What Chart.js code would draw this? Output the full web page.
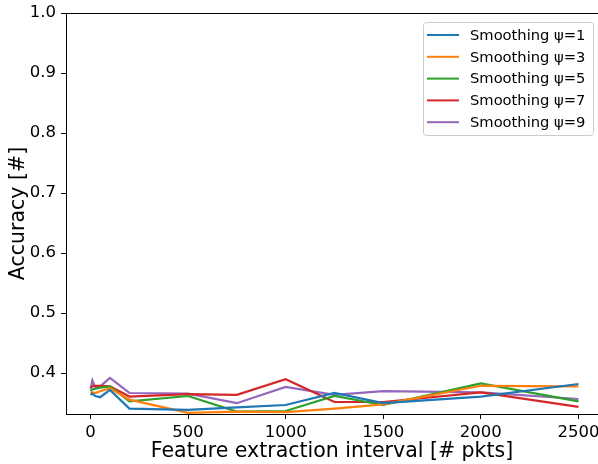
<!DOCTYPE html>
<html>
<head>
<meta charset="utf-8">
<script src="https://cdn.jsdelivr.net/npm/chart.js@4.4.1/dist/chart.umd.min.js"></script>
<style>
  html, body { margin: 0; padding: 0; background: #fff; overflow: hidden; }
  #wrap { width: 598px; height: 464px; position: relative; }
</style>
</head>
<body>
<div id="wrap"><canvas id="chart"></canvas></div>
<script>
// data
const intervals = [1, 10, 25, 50, 100, 200, 500, 750, 1000, 1250, 1500, 2000, 2500];
const smooth1 = [0.364, 0.366, 0.362, 0.360, 0.372, 0.341, 0.339, 0.343, 0.347, 0.367, 0.350, 0.361, 0.382];
const smooth3 = [0.366, 0.368, 0.367, 0.370, 0.375, 0.356, 0.334, 0.336, 0.335, 0.341, 0.348, 0.379, 0.378];
const smooth5 = [0.370, 0.373, 0.374, 0.376, 0.378, 0.353, 0.362, 0.336, 0.337, 0.362, 0.347, 0.383, 0.353];
const smooth7 = [0.376, 0.378, 0.379, 0.379, 0.378, 0.361, 0.365, 0.364, 0.390, 0.352, 0.352, 0.368, 0.344];
const smooth9 = [0.373, 0.388, 0.376, 0.378, 0.392, 0.367, 0.366, 0.350, 0.377, 0.364, 0.370, 0.368, 0.357];
const seriesNames = ['Smoothing ψ=1', 'Smoothing ψ=3', 'Smoothing ψ=5', 'Smoothing ψ=7', 'Smoothing ψ=9'];
const xTicks = [0, 500, 1000, 1500, 2000, 2500];
const yTicks = [0.4, 0.5, 0.6, 0.7, 0.8, 0.9, 1.0];

const colors = ['#1f77b4', '#ff7f0e', '#2ca02c', '#d62728', '#9467bd'];
const FONT = "'DejaVu Sans', 'Liberation Sans', sans-serif";

const allSeries = [smooth1, smooth3, smooth5, smooth7, smooth9];
const datasets = allSeries.map((vals, i) => ({
  label: seriesNames[i],
  data: intervals.map((x, j) => ({ x: x, y: vals[j] })),
  borderColor: colors[i], backgroundColor: colors[i],
  borderWidth: 2.2, pointRadius: 0, tension: 0, fill: false
}));

// top spine + matplotlib-like legend box
const framePlugin = {
  id: 'frame',
  afterDatasetsDraw(chart) {
    const { ctx, chartArea: a } = chart;
    ctx.save();
    ctx.strokeStyle = '#000'; ctx.lineWidth = 1;
    ctx.beginPath(); ctx.moveTo(a.left, a.top + 0.5); ctx.lineTo(a.right, a.top + 0.5); ctx.stroke();

    const bx = 423.5, by = 22.5, bw = 170, bh = 113, r = 3;
    ctx.beginPath();
    ctx.moveTo(bx + r, by); ctx.lineTo(bx + bw - r, by); ctx.quadraticCurveTo(bx + bw, by, bx + bw, by + r);
    ctx.lineTo(bx + bw, by + bh - r); ctx.quadraticCurveTo(bx + bw, by + bh, bx + bw - r, by + bh);
    ctx.lineTo(bx + r, by + bh); ctx.quadraticCurveTo(bx, by + bh, bx, by + bh - r);
    ctx.lineTo(bx, by + r); ctx.quadraticCurveTo(bx, by, bx + r, by);
    ctx.fillStyle = 'rgba(255,255,255,0.8)'; ctx.fill();
    ctx.strokeStyle = '#cccccc'; ctx.stroke();

    ctx.font = '14.7px ' + FONT; ctx.textBaseline = 'middle'; ctx.fillStyle = '#000';
    chart.data.datasets.forEach((ds, i) => {
      const y = 35 + i * 21.8;
      ctx.strokeStyle = ds.borderColor; ctx.lineWidth = 2;
      ctx.beginPath(); ctx.moveTo(427, y); ctx.lineTo(459, y); ctx.stroke();
      ctx.fillText(ds.label, 470, y + 1);
    });
    ctx.restore();
  }
};

new Chart(document.getElementById('chart'), {
  type: 'line',
  data: { datasets },
  options: {
    responsive: true, maintainAspectRatio: false, animation: false,
    layout: { padding: { top: 13, left: 0, right: 0, bottom: 0 } },
    plugins: { legend: { display: false }, tooltip: { enabled: false } },
    scales: {
      x: {
        type: 'linear', min: -125, max: 2600,
        afterBuildTicks: s => { s.ticks = xTicks.map(v => ({ value: v })); },
        afterFit: s => { s.height = 50; s.paddingLeft = 0; s.paddingRight = 0; },
        ticks: { autoSkip: false, maxRotation: 0, color: '#000', padding: 4, font: { family: FONT, size: 16.5 },
                 callback: v => String(v) },
        grid: { drawOnChartArea: false, drawTicks: true, tickLength: 5, tickColor: '#000' },
        border: { color: '#000', width: 1 },
        title: { display: true, text: 'Feature extraction interval [# pkts]', color: '#000',
                 font: { family: FONT, size: 20.5 }, padding: { top: 0, bottom: 0 } }
      },
      y: {
        type: 'linear', min: 0.332, max: 1.0,
        afterBuildTicks: s => { s.ticks = yTicks.map(v => ({ value: v })); },
        afterFit: s => { s.width = 66; s.paddingTop = 0; s.paddingBottom = 0; },
        ticks: { color: '#000', padding: 5, font: { family: FONT, size: 16.5 }, callback: v => v.toFixed(1) },
        grid: { drawOnChartArea: false, drawTicks: true, tickLength: 5, tickColor: '#000' },
        border: { color: '#000', width: 1 },
        title: { display: true, text: 'Accuracy [#]', color: '#000',
                 font: { family: FONT, size: 20.5 }, padding: { top: 6, bottom: 0 } }
      }
    }
  },
  plugins: [framePlugin]
});
</script>
</body>
</html>
